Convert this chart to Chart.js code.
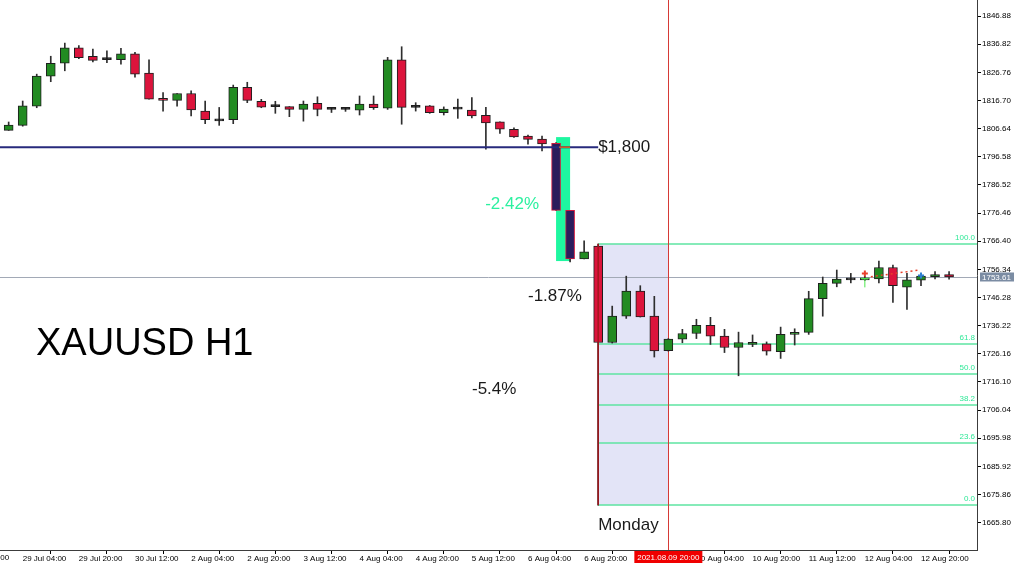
<!DOCTYPE html>
<html>
<head>
<meta charset="utf-8">
<script src="https://cdn.jsdelivr.net/npm/chart.js@4.4.0/dist/chart.umd.min.js"></script>
<style>
  html, body { margin: 0; padding: 0; background: #fff; }
  #wrap { width: 1024px; height: 566px; }
</style>
</head>
<body>
<div id="wrap"><canvas id="chart" width="1024" height="566"></canvas></div>
<script>
// XAUUSD bars, index 0 = 29 Jul 00:00, one bar every 4 hours
const opens = [1806.0, 1807.8, 1814.7, 1825.4, 1830.0, 1835.5, 1832.5, 1831.3, 1831.3, 1833.4,
  1826.5, 1817.3, 1816.7, 1819.2, 1812.9, 1809.4, 1809.8, 1821.4, 1816.4, 1814.5,
  1814.5, 1813.5, 1815.7, 1813.5, 1813.5, 1813.2, 1815.4, 1813.9, 1831.2, 1814.2,
  1814.8, 1812.3, 1813.6, 1813.3, 1811.4, 1809.1, 1806.4, 1804.0, 1802.9, 1801.4,
  1777.4, 1760.1, 1764.7, 1730.2, 1739.6, 1748.6, 1739.6, 1727.3, 1731.4, 1733.4,
  1736.3, 1732.5, 1728.4, 1729.5, 1729.7, 1726.9, 1733.1, 1733.8, 1745.9, 1751.3,
  1752.6, 1752.6, 1752.9, 1757.0, 1750.0, 1752.5, 1753.7, 1754.5];
const highs = [1809.0, 1816.5, 1826.1, 1832.5, 1837.2, 1836.3, 1835.1, 1834.4, 1835.3, 1833.9,
  1831.2, 1819.5, 1819.2, 1820.1, 1816.5, 1814.2, 1822.2, 1823.2, 1817.1, 1816.4,
  1814.5, 1816.5, 1818.0, 1814.2, 1814.2, 1818.3, 1818.3, 1832.1, 1835.9, 1815.9,
  1814.9, 1814.4, 1817.2, 1817.7, 1814.2, 1809.1, 1806.9, 1804.3, 1804.0, 1801.6,
  1777.4, 1766.5, 1765.4, 1743.2, 1753.9, 1750.5, 1746.7, 1731.6, 1734.9, 1738.5,
  1739.2, 1734.9, 1733.9, 1732.9, 1730.4, 1735.7, 1735.1, 1748.5, 1753.6, 1756.1,
  1754.9, 1753.9, 1759.3, 1757.9, 1754.9, 1754.9, 1755.5, 1755.5];
const lows = [1806.0, 1807.5, 1814.1, 1823.4, 1827.3, 1831.6, 1830.5, 1830.2, 1829.7, 1825.0,
  1817.2, 1812.9, 1814.7, 1811.2, 1808.4, 1807.8, 1808.4, 1815.9, 1814.1, 1812.1,
  1810.9, 1809.3, 1811.2, 1812.4, 1812.8, 1811.5, 1813.5, 1813.5, 1808.2, 1812.9,
  1812.1, 1811.5, 1810.3, 1810.5, 1799.3, 1804.9, 1803.5, 1801.1, 1798.7, 1777.4,
  1759.0, 1760.1, 1672.1, 1730.0, 1738.8, 1739.3, 1725.0, 1727.1, 1730.1, 1731.6,
  1729.5, 1726.6, 1718.3, 1728.7, 1725.7, 1724.5, 1729.3, 1733.1, 1739.6, 1750.1,
  1751.5, 1752.4, 1751.5, 1744.5, 1742.0, 1750.5, 1752.9, 1752.8];
const closes = [1807.9, 1814.8, 1825.4, 1830.0, 1835.5, 1832.0, 1831.0, 1831.3, 1833.4, 1826.1,
  1817.2, 1816.7, 1819.2, 1813.3, 1809.8, 1809.4, 1821.4, 1816.7, 1814.3, 1814.5,
  1813.5, 1815.4, 1813.5, 1813.5, 1813.5, 1815.4, 1814.1, 1831.2, 1814.2, 1814.2,
  1812.3, 1813.6, 1813.6, 1811.2, 1808.7, 1806.4, 1803.7, 1802.8, 1801.2, 1777.4,
  1760.1, 1762.6, 1730.2, 1739.6, 1748.6, 1739.3, 1727.2, 1731.4, 1733.4, 1736.3,
  1732.5, 1728.4, 1730.2, 1730.3, 1727.1, 1733.1, 1733.8, 1745.9, 1751.3, 1752.9,
  1752.6, 1753.3, 1757.0, 1750.5, 1752.6, 1753.9, 1754.5, 1753.6];

const xTickIndex = [1, 5, 9, 13, 17, 21, 25, 29, 33, 37, 41, 45, 49, 53, 57, 61, 65];
const xTickLabels = ['29 Jul 04:00', '29 Jul 20:00', '30 Jul 12:00', '2 Aug 04:00', '2 Aug 20:00',
  '3 Aug 12:00', '4 Aug 04:00', '4 Aug 20:00', '5 Aug 12:00', '6 Aug 04:00', '6 Aug 20:00',
  '9 Aug 12:00', '10 Aug 04:00', '10 Aug 20:00', '11 Aug 12:00', '12 Aug 04:00', '12 Aug 20:00'];
const yTickValues = [1665.80, 1675.86, 1685.92, 1695.98, 1706.04, 1716.10, 1726.16, 1736.22,
  1746.28, 1756.34, 1766.40, 1776.46, 1786.52, 1796.58, 1806.64, 1816.70, 1826.76, 1836.82, 1846.88];

// chart objects
const level1800 = 1800;
const currentPrice = 1753.61;
const fibHigh = 1765.5;
const fibLow = 1672.05;
const fibLevels = [100.0, 61.8, 50.0, 38.2, 23.6, 0.0];
const fibBar = 42;      // Monday open
const lineBar = 47;     // 2021.08.09 20:00
const dropBars = [39, 40];
const dropBoxTop = 1803.6;
const dropBoxBottom = 1759.3;

const GREEN = '#228b22';
const RED = '#dc143c';
const TEXT_FONT = '"Liberation Sans", Arial, sans-serif';
const AXIS_FONT = { family: '"Liberation Sans", Arial, sans-serif', size: 8 };

function bodyColor(i) {
  if (dropBars.includes(i)) return '#2c1c5c';
  if (closes[i] > opens[i]) return GREEN;
  if (closes[i] < opens[i]) return RED;
  return '#111';
}

const overlay = {
  id: 'overlay',
  beforeDatasetsDraw(chart) {
    const { ctx, chartArea: a, scales: { x, y } } = chart;
    ctx.save();
    ctx.beginPath();
    ctx.rect(a.left, a.top, a.right - a.left, a.bottom - a.top);
    ctx.clip();

    // Monday area
    ctx.fillStyle = '#e3e4f7';
    ctx.fillRect(x.getPixelForValue(fibBar), y.getPixelForValue(fibHigh),
      x.getPixelForValue(lineBar) - x.getPixelForValue(fibBar),
      y.getPixelForValue(fibLow) - y.getPixelForValue(fibHigh));

    // drop box
    ctx.fillStyle = '#1ef7a0';
    ctx.fillRect(x.getPixelForValue(dropBars[0]), y.getPixelForValue(dropBoxTop),
      x.getPixelForValue(dropBars[1]) - x.getPixelForValue(dropBars[0]),
      y.getPixelForValue(dropBoxBottom) - y.getPixelForValue(dropBoxTop));

    // fibo levels
    ctx.strokeStyle = '#5ee4a2';
    ctx.lineWidth = 1.5;
    ctx.fillStyle = '#30e898';
    ctx.font = '8px ' + TEXT_FONT;
    ctx.textAlign = 'right';
    ctx.textBaseline = 'bottom';
    fibLevels.forEach(function(lv) {
      const py = Math.round(y.getPixelForValue(fibLow + (fibHigh - fibLow) * lv / 100));
      ctx.beginPath();
      ctx.moveTo(x.getPixelForValue(fibBar), py);
      ctx.lineTo(a.right, py);
      ctx.stroke();
      ctx.fillText(lv.toFixed(1), a.right - 2, py - 2);
    });

    // bid line
    const by = Math.round(y.getPixelForValue(currentPrice)) + 0.5;
    ctx.strokeStyle = '#a2a9b6';
    ctx.lineWidth = 1;
    ctx.beginPath();
    ctx.moveTo(a.left, by);
    ctx.lineTo(a.right, by);
    ctx.stroke();

    // vertical time line
    const vx = Math.round(x.getPixelForValue(lineBar)) + 0.5;
    ctx.strokeStyle = '#d63a36';
    ctx.beginPath();
    ctx.moveTo(vx, a.top);
    ctx.lineTo(vx, a.bottom);
    ctx.stroke();
    ctx.restore();
  },
  afterDatasetsDraw(chart) {
    const { ctx, chartArea: a, scales: { x, y } } = chart;
    ctx.save();
    const fx = x.getPixelForValue(fibBar);

    // $1,800 line
    const ly = y.getPixelForValue(level1800);
    ctx.strokeStyle = '#272a7c';
    ctx.lineWidth = 2;
    ctx.beginPath();
    ctx.moveTo(a.left, ly);
    ctx.lineTo(fx, ly);
    ctx.stroke();
    ctx.strokeStyle = '#d2691e';
    ctx.lineWidth = 1.5;
    ctx.beginPath();
    ctx.moveTo(x.getPixelForValue(dropBars[0]) + 3, ly);
    ctx.lineTo(x.getPixelForValue(dropBars[1]), ly);
    ctx.stroke();

    // fibo trend line
    ctx.strokeStyle = '#a3161c';
    ctx.lineWidth = 1.5;
    ctx.beginPath();
    ctx.moveTo(fx, y.getPixelForValue(fibHigh));
    ctx.lineTo(fx, y.getPixelForValue(fibLow));
    ctx.stroke();

    // trade markers
    const mx = x.getPixelForValue(61);
    const bx = x.getPixelForValue(65);
    ctx.strokeStyle = '#e8402c';
    ctx.lineWidth = 1.5;
    ctx.setLineDash([2, 3]);
    ctx.beginPath();
    ctx.moveTo(mx + 6, y.getPixelForValue(1753.7));
    ctx.lineTo(bx - 2, y.getPixelForValue(1756.1));
    ctx.stroke();
    ctx.setLineDash([]);
    ctx.lineWidth = 2;
    const ry = y.getPixelForValue(1754.9);
    ctx.beginPath();
    ctx.moveTo(mx - 3, ry); ctx.lineTo(mx + 3, ry);
    ctx.moveTo(mx, ry - 3); ctx.lineTo(mx, ry + 3);
    ctx.stroke();
    ctx.strokeStyle = '#4ce84c';
    ctx.lineWidth = 1;
    const gy = y.getPixelForValue(1753.1);
    ctx.beginPath();
    ctx.moveTo(mx - 4, gy); ctx.lineTo(mx + 4, gy);
    ctx.moveTo(mx, gy); ctx.lineTo(mx, y.getPixelForValue(1749.9));
    ctx.stroke();
    ctx.strokeStyle = '#2f7fd0';
    ctx.lineWidth = 2;
    const uy = y.getPixelForValue(1754.1);
    ctx.beginPath();
    ctx.moveTo(bx - 3, uy); ctx.lineTo(bx + 3, uy);
    ctx.moveTo(bx, uy - 3); ctx.lineTo(bx, uy + 3);
    ctx.stroke();

    // texts
    ctx.textBaseline = 'middle';
    ctx.textAlign = 'left';
    ctx.font = '17px ' + TEXT_FONT;
    ctx.fillStyle = '#1a1a1a';
    ctx.fillText('$1,800', fx, ly);
    ctx.fillText('-1.87%', 528, 296);
    ctx.fillText('-5.4%', 472, 389);
    ctx.fillText('Monday', fx, 525);
    ctx.fillStyle = '#2cf0a0';
    ctx.textAlign = 'right';
    ctx.fillText('-2.42%', 539, 204);
    ctx.textAlign = 'left';
    ctx.textBaseline = 'alphabetic';
    ctx.fillStyle = '#000';
    ctx.font = '38px ' + TEXT_FONT;
    ctx.fillText('XAUUSD H1', 36, 355);
    ctx.restore();
  },
  afterDraw(chart) {
    const { ctx, chartArea: a, scales: { x, y } } = chart;
    ctx.save();
    ctx.font = '8px ' + TEXT_FONT;
    ctx.textBaseline = 'middle';

    // bid price tag
    const by = y.getPixelForValue(currentPrice);
    ctx.fillStyle = '#7b8ca3';
    ctx.fillRect(a.right + 3, by - 4.5, 34, 9);
    ctx.fillStyle = '#fff';
    ctx.textAlign = 'left';
    ctx.fillText(currentPrice.toFixed(2), a.right + 5, by + 0.5);

    // time tag of the vertical line
    const vx = x.getPixelForValue(lineBar);
    ctx.fillStyle = '#f00000';
    ctx.fillRect(vx - 34, a.bottom + 1, 68, 12);
    ctx.fillStyle = '#fff';
    ctx.textAlign = 'center';
    ctx.fillText('2021.08.09 20:00', vx, a.bottom + 7.5);

    // cut label at the left edge
    ctx.fillStyle = '#000';
    ctx.textAlign = 'right';
    ctx.fillText('28 Jul 12:00', x.getPixelForValue(0) + 0.5, a.bottom + 8);
    ctx.restore();
  }
};

const ctx = document.getElementById('chart').getContext('2d');
new Chart(ctx, {
  type: 'bar',
  data: {
    datasets: [
      {
        label: 'body',
        data: opens.map((o, i) => ({ x: i, y: [o, closes[i]] })),
        backgroundColor: c => bodyColor(c.dataIndex),
        borderColor: c => dropBars.includes(c.dataIndex) ? '#d0163c' : '#1e1e1e',
        borderWidth: 1,
        borderSkipped: false,
        barThickness: 9,
        minBarLength: 2,
        grouped: false,
        order: 0
      },
      {
        label: 'wick',
        data: lows.map((l, i) => ({ x: i, y: [l, highs[i]] })),
        backgroundColor: '#2e2e2e',
        borderWidth: 0,
        barThickness: 1,
        grouped: false,
        order: 1
      }
    ]
  },
  options: {
    responsive: false,
    animation: false,
    devicePixelRatio: 1,
    layout: { padding: 0 },
    plugins: { legend: { display: false }, tooltip: { enabled: false } },
    scales: {
      x: {
        type: 'linear',
        min: -0.617,
        max: 68.99,
        offset: false,
        grid: { drawOnChartArea: false, drawTicks: true, tickLength: 4, color: '#000' },
        border: { display: true, color: '#3c3c3c' },
        afterBuildTicks: s => { s.ticks = xTickIndex.map(v => ({ value: v })); },
        afterFit: s => { s.height = 16; s.paddingLeft = 0; s.paddingRight = 0; },
        ticks: {
          autoSkip: false, maxRotation: 0, minRotation: 0, align: 'start', padding: 0,
          color: '#000', font: AXIS_FONT,
          callback: (v, i) => xTickLabels[i]
        }
      },
      y: {
        position: 'right',
        min: 1656.04,
        max: 1852.60,
        grid: { drawOnChartArea: false, drawTicks: true, tickLength: 4, color: '#000' },
        border: { display: true, color: '#3c3c3c' },
        afterBuildTicks: s => { s.ticks = yTickValues.map(v => ({ value: v })); },
        afterFit: s => { s.width = 47; s.paddingTop = 0; s.paddingBottom = 0; },
        ticks: {
          padding: 1, color: '#000', font: AXIS_FONT,
          callback: v => v.toFixed(2)
        }
      }
    }
  },
  plugins: [overlay]
});
</script>
</body>
</html>
